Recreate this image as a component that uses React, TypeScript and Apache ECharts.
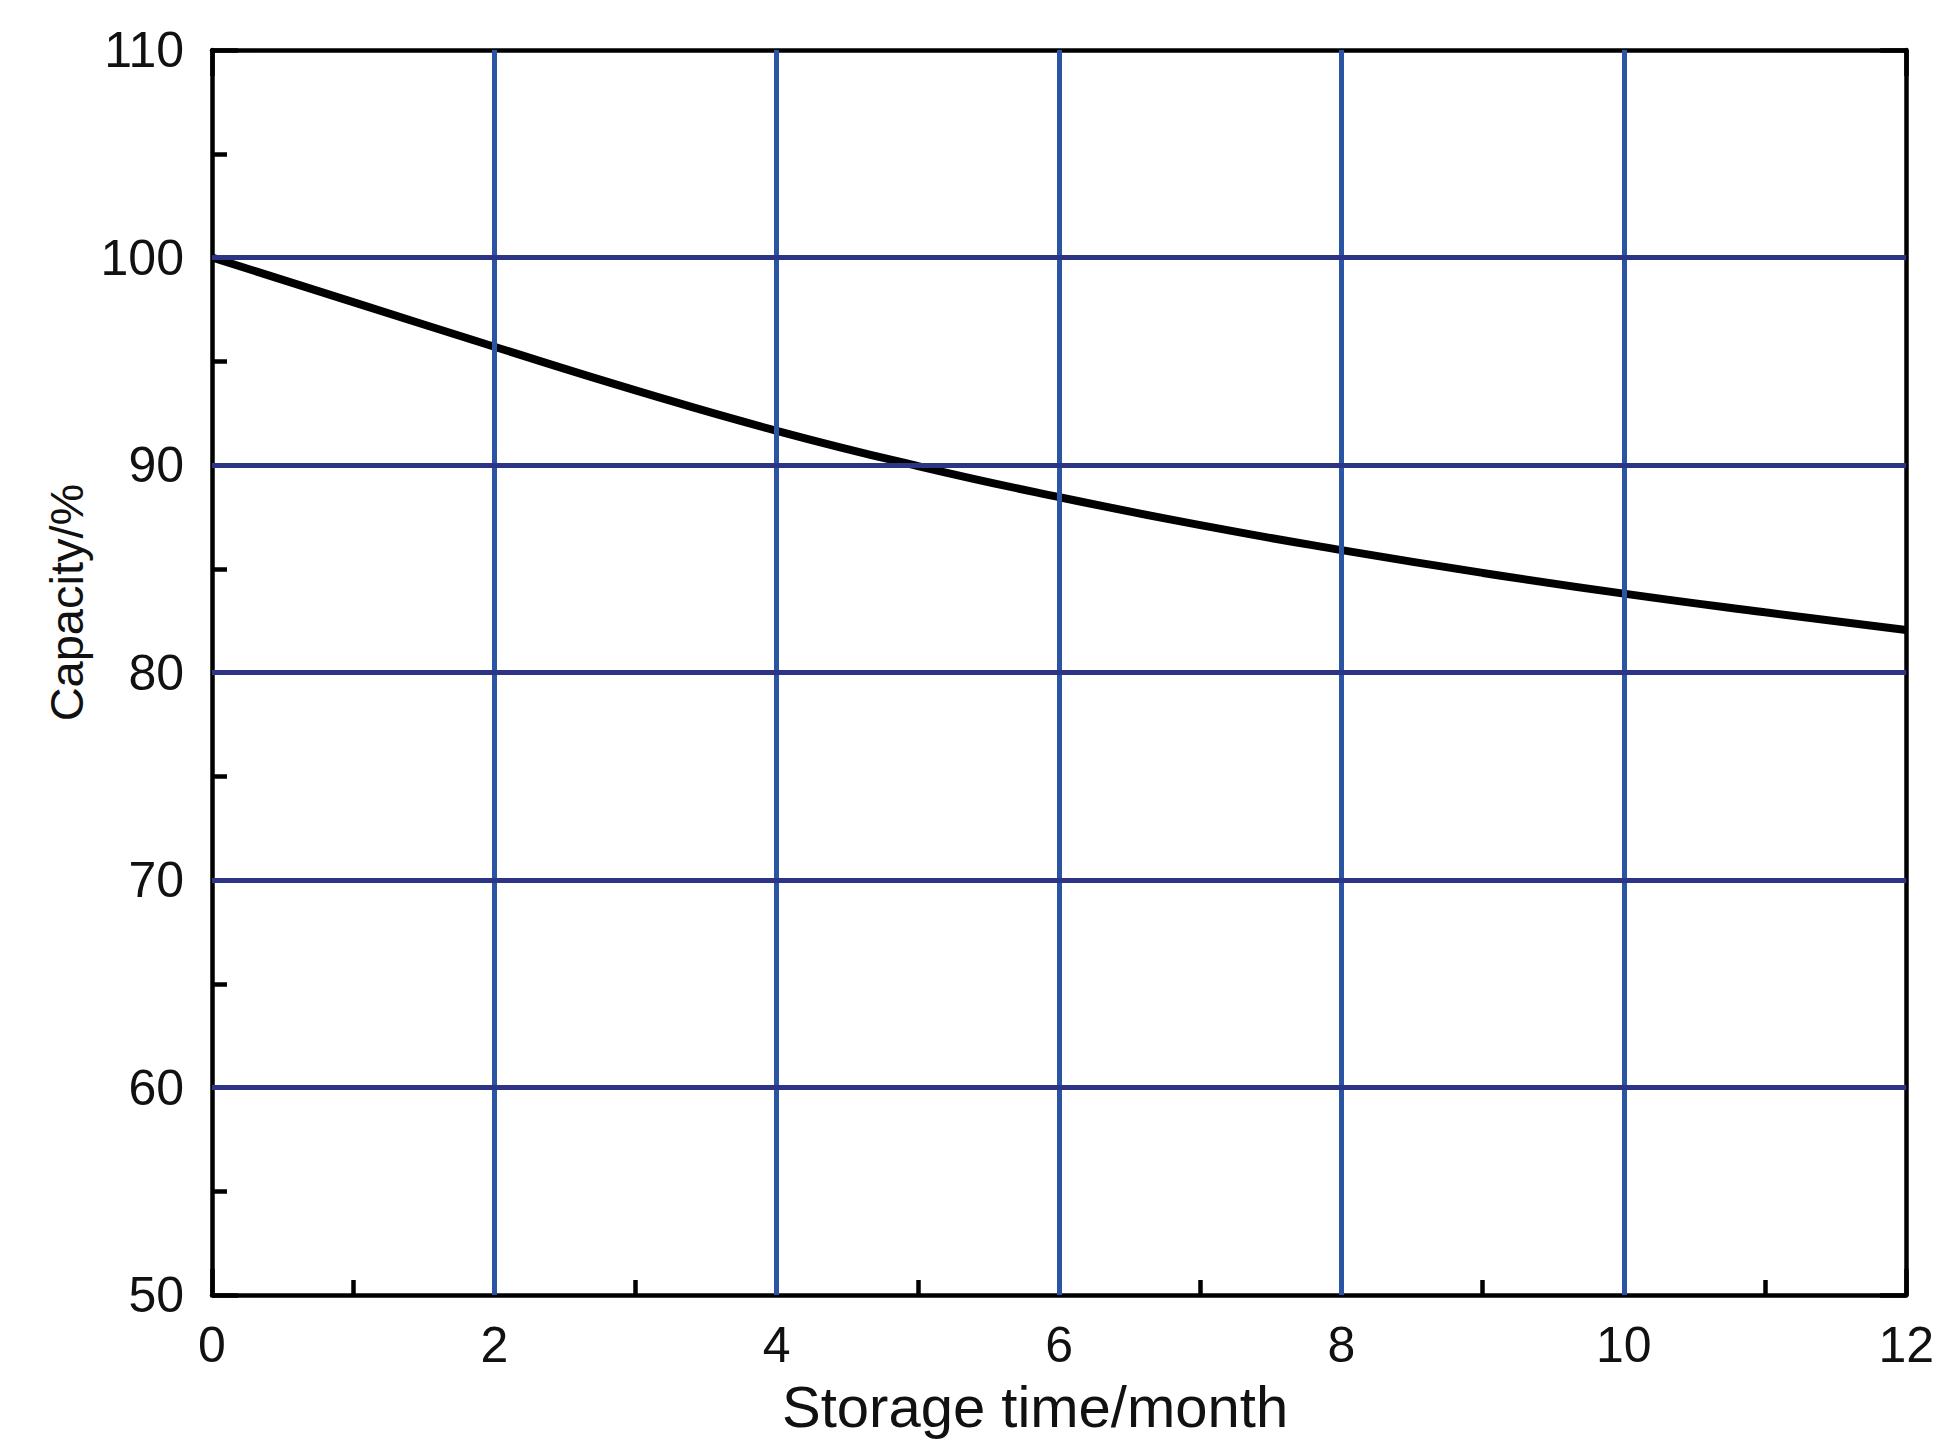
import React, { useEffect, useRef } from "react";
import * as echarts from "echarts";

// ---- data ----
const months = [0, 1, 2, 3, 4, 5, 6, 7, 8, 9, 10, 11, 12];
const capacity = [100, 97.85, 95.7, 93.6, 91.65, 89.95, 88.45, 87.1, 85.9, 84.8, 83.8, 82.9, 82.05];
const xGridValues = [2, 4, 6, 8, 10];
const yGridValues = [60, 70, 80, 90, 100];
const xRange = { min: 0, max: 12, interval: 2 };
const yRange = { min: 50, max: 110, interval: 10 };
const xTitle = "Storage time/month";
const yTitle = "Capacity/%";

const FONT = '"Liberation Sans", Arial, Helvetica, sans-serif';
const BLACK = "#000000";
const V_GRID = "#2a55a5";
const H_GRID = "#2c3585";

export default function App() {
  const ref = useRef<HTMLDivElement>(null);

  useEffect(() => {
    document.body.style.margin = "0";
    if (!ref.current) return;
    const chart = echarts.init(ref.current, null, { renderer: "svg" });

    const frameAxisCommon = {
      z: 3,
      axisLine: { show: true, onZero: false, lineStyle: { color: BLACK, width: 4.5 } },
      axisTick: { show: true, inside: true, length: 26, lineStyle: { color: BLACK, width: 4.5 } },
      splitLine: { show: false },
    };

    const curve = months.map((m, i) => [m, capacity[i]]);

    chart.setOption({
      animation: false,
      backgroundColor: "#ffffff",
      grid: { left: 212, right: 27, top: 50, bottom: 145, containLabel: false },
      xAxis: [
        {
          type: "value",
          position: "bottom",
          ...xRange,
          ...frameAxisCommon,
          minorTick: { show: true, splitNumber: 2, length: 15, lineStyle: { color: BLACK, width: 4.5 } },
          axisLabel: {
            show: true,
            margin: 25,
            fontSize: 50,
            color: "#111111",
            fontFamily: FONT,
            showMinLabel: true,
            showMaxLabel: true,
          },
          name: xTitle,
          nameLocation: "middle",
          nameGap: 82,
          nameTextStyle: { fontSize: 58, color: "#111111", fontFamily: FONT, padding: [0, 48, 0, 0] },
        },
        {
          type: "value",
          position: "top",
          ...xRange,
          ...frameAxisCommon,
          axisLabel: { show: false },
        },
      ],
      yAxis: [
        {
          type: "value",
          position: "left",
          ...yRange,
          ...frameAxisCommon,
          minorTick: { show: true, splitNumber: 2, length: 15, lineStyle: { color: BLACK, width: 4.5 } },
          axisLabel: {
            show: true,
            margin: 28,
            fontSize: 50,
            color: "#111111",
            fontFamily: FONT,
            padding: [0, 0, 10, 0],
            showMinLabel: true,
            showMaxLabel: true,
          },
          name: yTitle,
          nameLocation: "middle",
          nameGap: 108,
          nameTextStyle: { fontSize: 47, color: "#111111", fontFamily: FONT, padding: [0, 0, 0, 140] },
        },
        {
          type: "value",
          position: "right",
          ...yRange,
          ...frameAxisCommon,
          axisLabel: { show: false },
        },
      ],
      series: [
        {
          name: "grid",
          type: "line",
          z: 1,
          silent: true,
          data: curve,
          showSymbol: false,
          symbol: "none",
          lineStyle: { opacity: 0 },
          markLine: {
            silent: true,
            symbol: ["none", "none"],
            label: { show: false },
            animation: false,
            data: [
              ...xGridValues.map((v) => ({ xAxis: v, lineStyle: { color: V_GRID, width: 5, type: "solid" } })),
              ...yGridValues.map((v) => ({ yAxis: v, lineStyle: { color: H_GRID, width: 5, type: "solid" } })),
            ],
          },
        },
        {
          name: "Capacity",
          type: "line",
          z: 4,
          data: curve,
          smooth: true,
          showSymbol: false,
          symbol: "none",
          lineStyle: { color: BLACK, width: 8 },
        },
      ],
    });

    return () => {
      chart.dispose();
    };
  }, []);

  return <div ref={ref} style={{ width: 1937, height: 1440 }} />;
}
